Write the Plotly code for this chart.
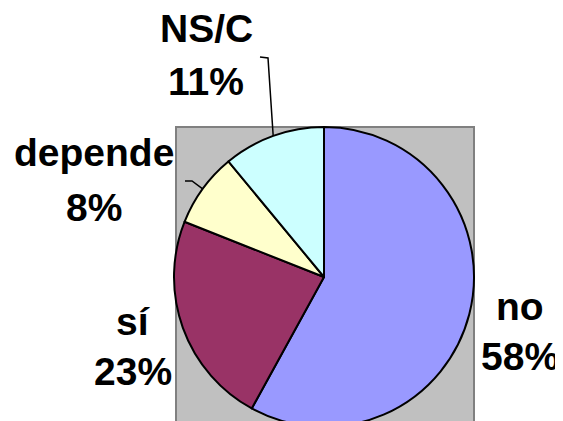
import math
import plotly.graph_objects as go

# Survey answers and their shares (percent)
labels = ["no", "sí", "depende", "NS/C"]
values = [58, 23, 8, 11]
colors = ["#9999FF", "#993366", "#FFFFCC", "#CCFFFF"]

W, H = 563, 421
OFF = 8  # page body margin shifts the figure by this many pixels

# Pie geometry in pixels (plot area box is the gray rectangle)
box_left, box_right, box_top = 176, 474, 127
pie_cx, pie_cy, pie_r = 324, 277, 150


def px(x, y):
    return (x - OFF) / W, 1 - (y - OFF) / H


dx0, dy1 = px(pie_cx - pie_r, pie_cy - pie_r)
dx1, dy0 = px(pie_cx + pie_r, pie_cy + pie_r)

fig = go.Figure(go.Pie(
    labels=labels,
    values=values,
    sort=False,
    direction="clockwise",
    rotation=0,
    marker=dict(colors=colors, line=dict(color="black", width=2)),
    textinfo="none",
    hoverinfo="label+percent",
    showlegend=False,
    domain=dict(x=[dx0, dx1], y=[max(dy0, 0), dy1]),
))

# Gray plot area behind the pie
x0, y1 = px(box_left, box_top)
x1, _ = px(box_right, box_top)
fig.add_shape(type="rect", xref="paper", yref="paper", layer="below",
              x0=x0, x1=x1, y0=-0.1, y1=y1,
              fillcolor="#C0C0C0", line=dict(color="#808080", width=2))

# Label text: two lines each, centre x and line centres y (pixels)
label_pos = {
    "no": (520, 306, 356),
    "sí": (133, 321, 371),
    "depende": (94, 152, 207),
    "NS/C": (206, 28, 81),
}
total = sum(values)
font = dict(family="Liberation Sans, Arial, sans-serif", size=39, color="black")
for lab, val in zip(labels, values):
    cx, ya, yb = label_pos[lab]
    for txt, yy in ((lab, ya), (f"{round(100 * val / total)}%", yb)):
        ax, ay = px(cx, yy)
        fig.add_annotation(x=ax, y=ay, xref="paper", yref="paper", text=f"<b>{txt}</b>",
                           showarrow=False, xanchor="center", yanchor="middle", font=font)

# Leader lines for the small slices, anchored at slice mid-angle on the edge
elbows = {"depende": [(192, 181), (185, 181)], "NS/C": [(268, 58), (260, 57)]}
cum = 0
for lab, val in zip(labels, values):
    mid = (cum + val / 2) / total * 2 * math.pi
    cum += val
    if lab not in elbows:
        continue
    ex = pie_cx + pie_r * math.sin(mid)
    ey = pie_cy - pie_r * math.cos(mid)
    pts = [px(ex, ey)] + [px(a, b) for a, b in elbows[lab]]
    path = "M " + " L ".join(f"{a},{b}" for a, b in pts)
    fig.add_shape(type="path", xref="paper", yref="paper", path=path,
                  line=dict(color="black", width=1.5))

fig.update_layout(
    width=W, height=H,
    margin=dict(l=0, r=0, t=0, b=0),
    paper_bgcolor="white",
    plot_bgcolor="white",
)

fig.write_html("out.html")
